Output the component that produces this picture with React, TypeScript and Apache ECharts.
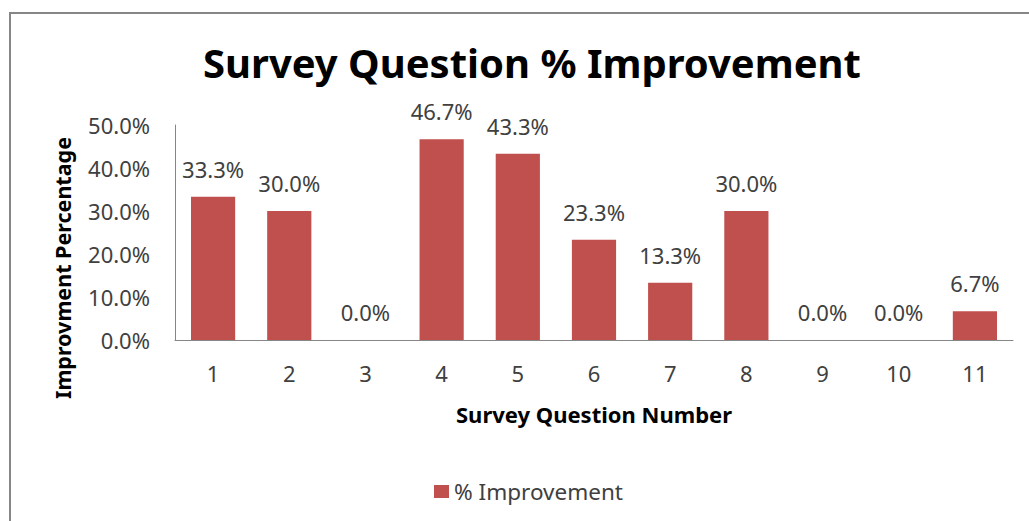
import React, { useEffect, useRef } from "react";
import * as echarts from "echarts";

const categories = ["1", "2", "3", "4", "5", "6", "7", "8", "9", "10", "11"];
const improvement = [33.3, 30.0, 0.0, 46.7, 43.3, 23.3, 13.3, 30.0, 0.0, 0.0, 6.7];
const seriesName = "% Improvement";
const titleText = "Survey Question % Improvement";
const xTitle = "Survey Question Number";
const yTitle = "Improvment Percentage";

const FONT = "'Noto Sans', 'Open Sans', sans-serif";

export default function App() {
  const ref = useRef<HTMLDivElement>(null);
  useEffect(() => {
    if (!ref.current) return;
    const chart = echarts.init(ref.current, null, { renderer: "svg" });
    chart.setOption({
      animation: false,
      backgroundColor: "#ffffff",
      textStyle: { fontFamily: FONT },
      title: {
        text: titleText,
        left: 527,
        top: 37,
        textAlign: "center",
        textStyle: { fontFamily: FONT, fontSize: 40, fontWeight: "bold", color: "#000000" },
      },
      legend: {
        data: [seriesName],
        left: 429,
        top: 475,
        itemWidth: 15,
        itemHeight: 13,
        itemGap: 6,
        icon: "rect",
        textStyle: { fontFamily: FONT, fontSize: 22.5, color: "#404040" },
      },
      grid: { left: 175, right: 16, top: 125, bottom: 181, containLabel: false },
      xAxis: {
        type: "category",
        data: categories,
        name: xTitle,
        nameLocation: "middle",
        nameGap: 63,
        nameTextStyle: { fontFamily: FONT, fontSize: 22, fontWeight: "bold", color: "#000000" },
        axisLine: { lineStyle: { color: "#868686", width: 1 } },
        axisTick: { show: false },
        axisLabel: { fontFamily: FONT, fontSize: 22, color: "#404040", margin: 22 },
      },
      yAxis: {
        type: "value",
        min: 0,
        max: 50,
        interval: 10,
        axisLine: { show: true, lineStyle: { color: "#868686", width: 1 } },
        axisTick: { show: false },
        splitLine: { show: false },
        axisLabel: {
          fontFamily: FONT,
          fontSize: 22,
          color: "#404040",
          margin: 25,
          formatter: (v: number) => v.toFixed(1) + "%",
        },
      },
      graphic: [
        {
          type: "rect",
          shape: { x: 10, y: 13, width: 1060, height: 560 },
          style: { fill: "none", stroke: "#868686", lineWidth: 2 },
          silent: true,
        },
        {
          type: "text",
          x: 62,
          y: 268,
          rotation: Math.PI / 2,
          style: {
            text: yTitle,
            fontFamily: FONT,
            fontSize: 21.5,
            fontWeight: "bold",
            fill: "#000000",
            textAlign: "center",
            textVerticalAlign: "middle",
          },
        },
      ],
      series: [
        {
          name: seriesName,
          type: "bar",
          data: improvement,
          barCategoryGap: "42%",
          itemStyle: { color: "#C0504D" },
          label: {
            show: true,
            position: "top",
            distance: 17,
            fontFamily: FONT,
            fontSize: 22,
            color: "#404040",
            formatter: (p: any) => Number(p.value).toFixed(1) + "%",
          },
        },
      ],
    });
    return () => chart.dispose();
  }, []);
  return (
    <div
      ref={ref}
      style={{ position: "fixed", left: 0, top: 0, width: 1029, height: 521 }}
    />
  );
}
